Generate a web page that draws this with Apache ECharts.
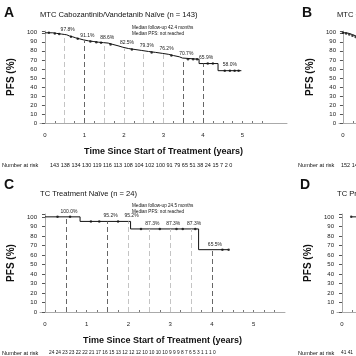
<!DOCTYPE html>
<html><head><meta charset="utf-8">
<script src="https://cdn.jsdelivr.net/npm/echarts@6/dist/echarts.min.js"></script>
<style>html,body{margin:0;padding:0;background:#fff}#c{width:356px;height:356px}</style>
</head><body><div id="c"></div>
<script>
const NARROW = '"Liberation Sans Narrow","Liberation Sans",Arial,sans-serif';
const SANS = '"Liberation Sans",Arial,sans-serif';

// ---------- Panel A: MTC Cabozantinib/Vandetanib Naive ----------
const aTitle = 'MTC Cabozantinib/Vandetanib Naïve (n = 143)';
const aTimes = [0, 0.2, 0.3, 0.42, 0.55, 0.62, 0.7, 0.78, 0.88, 0.97, 1.1, 1.22, 1.35, 1.48, 1.6, 1.72, 1.85, 1.97, 2.12, 2.28, 2.45, 2.62, 2.8, 2.97, 3.12, 3.25, 3.4, 3.48, 3.9, 4.38, 4.97];
const aSurv  = [100, 99.3, 98.6, 97.8, 96.5, 95.6, 94.4, 93.3, 92.2, 91.1, 90.4, 89.6, 89.1, 88.6, 87.1, 85.6, 84.0, 82.5, 81.5, 80.4, 79.3, 78.3, 77.2, 76.2, 74.8, 73.4, 72.0, 70.7, 65.9, 58.0, 58.0];
const aCensorT = [0.1, 0.25, 0.36, 0.66, 0.83, 1.15, 1.3, 1.42, 1.66, 2.2, 2.7, 3.2, 3.62, 3.75, 3.85, 4.12, 4.25, 4.55, 4.68, 4.8, 4.9];
const aCensorS = [100, 99.3, 98.6, 95.6, 93.3, 90.4, 89.6, 89.1, 87.1, 81.5, 78.3, 74.8, 70.7, 70.7, 70.7, 65.9, 65.9, 58.0, 58.0, 58.0, 58.0];
const aMarkT = [0.5, 1, 1.5, 2, 2.5, 3, 3.5, 4];
const aMarkS = [97.8, 91.1, 88.6, 82.5, 79.3, 76.2, 70.7, 65.9];
const aMarkDark = [false, true, false, false, false, false, true, true];
const aFinal = [4.68, 58.0];
const aRisk = [143, 138, 134, 130, 119, 116, 113, 108, 104, 102, 100, 91, 79, 65, 51, 38, 24, 15, 7, 2, 0];
const aNote = ['Median follow-up 42.4 months', 'Median PFS: not reached'];

// ---------- Panel B: MTC pretreated (cut off) ----------
const bTitle = 'MTC Cabozantinib/Vandetanib Pretreated (n = 152)';
const bTimes = [0, 0.08, 0.16, 0.24, 0.32, 0.4];
const bSurv  = [100, 99.3, 98.0, 96.7, 95.4, 94.1];
const bRisk = [152, 141];

// ---------- Panel C: TC Treatment Naive ----------
const cTitle = 'TC Treatment Naïve (n = 24)';
const cTimes = [0, 0.84, 2.05, 3.68, 4.4];
const cSurv  = [100, 95.2, 87.3, 65.5, 65.5];
const cCensorT = [0.3, 0.6, 1.1, 1.3, 1.75, 2.3, 2.75, 3.15, 3.3, 3.6, 4.25, 4.4];
const cCensorS = [100, 100, 95.2, 95.2, 95.2, 87.3, 87.3, 87.3, 87.3, 87.3, 65.5, 65.5];
const cMarkT = [0.5, 1, 1.5, 2, 2.5, 3, 3.5, 4];
const cMarkS = [100.0, 95.2, 95.2, 95.2, 87.3, 87.3, 87.3, 65.5];
const cMarkLine = ['dark', 'none', 'dark', 'light', 'light', 'light', 'light', 'dark'];
const cRisk = [24, 24, 23, 23, 22, 22, 21, 17, 16, 15, 13, 12, 12, 12, 10, 10, 10, 10, 9, 9, 9, 8, 7, 6, 5, 3, 1, 1, 1, 0];
const cNote = ['Median follow-up 24.5 months', 'Median PFS: not reached'];

// ---------- Panel D: TC pretreated (cut off) ----------
const dTitle = 'TC Pretreated (n = 41)';
const dTimes = [0.22, 0.5];
const dSurv  = [100, 100];
const dRisk = [41, 41];

const yTicks = [0, 10, 20, 30, 40, 50, 60, 70, 80, 90, 100];
const xLabels = [0, 1, 2, 3, 4, 5];
const xMinor = [0.25, 0.5, 0.75, 1, 1.25, 1.5, 1.75, 2, 2.25, 2.5, 2.75, 3, 3.25, 3.5, 3.75, 4, 4.25, 4.5, 4.75, 5, 5.25, 5.5];

const grids = [
  {left: 40, top: 31, width: 247, height: 92},
  {left: 339, top: 31, width: 247, height: 92},
  {left: 40, top: 214, width: 245, height: 98},
  {left: 337, top: 214, width: 245, height: 98}
].map(g => Object.assign({outerBoundsMode: 'none', containLabel: false}, g));
const xRanges = [[-0.125, 6.125], [-0.1, 6.15], [-0.12, 5.75], [-0.12, 5.75]];
const yMax = [102, 102, 103, 103];

function xAxisFor(i) {
  return {
    type: 'value', gridIndex: i, min: xRanges[i][0], max: xRanges[i][1],
    name: 'Time Since Start of Treatment (years)', nameLocation: 'middle', nameGap: 24,
    nameTextStyle: {fontFamily: NARROW, fontWeight: 'bold', fontSize: 9, color: '#111'},
    axisLine: {show: true, lineStyle: {color: '#aaa', width: 1}},
    axisTick: {show: true, customValues: xMinor, length: 2, inside: true, lineStyle: {color: '#777'}},
    axisLabel: {customValues: xLabels, fontFamily: SANS, fontSize: 6, color: '#222', margin: 9},
    splitLine: {show: false}
  };
}
function yAxisFor(i) {
  return {
    type: 'value', gridIndex: i, min: 0, max: yMax[i], interval: 10,
    name: 'PFS (%)', nameLocation: 'middle', nameGap: 20, nameRotate: 90,
    nameTextStyle: {fontFamily: NARROW, fontWeight: 'bold', fontSize: 10, color: '#111'},
    axisLine: {show: true, lineStyle: {color: '#aaa', width: 1}},
    axisTick: {show: true, length: 3, lineStyle: {color: '#555'}},
    axisLabel: {fontFamily: SANS, fontSize: 6, color: '#222', margin: 3,
      formatter: v => (yTicks.indexOf(v) >= 0 ? String(v) : '')},
    splitLine: {show: false}
  };
}
const zip = (a, b) => a.map((t, k) => [t, b[k]]);
const lblStyle = {fontFamily: SANS, fontSize: 5, color: '#222'};
const darkDash = {color: '#666', type: [5, 3], width: 1};
const lightDash = {color: '#c4c4c4', type: [5, 3], width: 1};

function markLines(ts, ss, styles) {
  return ts.map((t, k) => {
    const st = styles[k];
    const ls = st === 'dark' ? darkDash : (st === 'light' ? lightDash : {opacity: 0, width: 0});
    return [
      {coord: [t, 0], lineStyle: ls,
       label: {show: true, position: 'end', distance: 3, offset: [3, 0], formatter: ss[k].toFixed(1) + '%', ...lblStyle}},
      {coord: [t, ss[k]]}
    ];
  });
}

const curve = (i, ts, ss, extra) => Object.assign({
  type: 'line', xAxisIndex: i, yAxisIndex: i, step: 'end', data: zip(ts, ss),
  symbol: 'none', lineStyle: {color: '#111', width: 1}, silent: true, animation: false, z: 3
}, extra || {});
const censor = (i, ts, ss) => ({
  type: 'scatter', xAxisIndex: i, yAxisIndex: i, data: zip(ts, ss),
  symbol: 'circle', symbolSize: 2.5, itemStyle: {color: '#111'}, silent: true, animation: false, z: 4
});

const text = (x, y, str, style) => ({type: 'text', left: x, top: y, silent: true,
  style: Object.assign({text: str, fill: '#111', fontFamily: SANS, fontSize: 6}, style || {})});

const riskStr = arr => arr.join(' ');
const RISK_LABEL_FS = 5.6;

const option = {
  backgroundColor: '#fff',
  animation: false,
  grid: grids,
  xAxis: [0, 1, 2, 3].map(xAxisFor),
  yAxis: [0, 1, 2, 3].map(yAxisFor),
  series: [
    curve(0, aTimes, aSurv, {
      markLine: {silent: true, symbol: ['none', 'none'], animation: false,
        data: markLines(aMarkT, aMarkS, aMarkDark.map(d => d ? 'dark' : 'light'))},
      markPoint: {silent: true, symbol: 'circle', symbolSize: 0, animation: false,
        data: [{coord: aFinal, label: {show: true, position: 'top', distance: 4, formatter: aFinal[1].toFixed(1) + '%', ...lblStyle}}]}
    }),
    censor(0, aCensorT, aCensorS),
    curve(1, bTimes, bSurv),
    censor(1, bTimes, bSurv),
    curve(2, cTimes, cSurv, {
      markLine: {silent: true, symbol: ['none', 'none'], animation: false,
        data: markLines(cMarkT, cMarkS, cMarkLine)}
    }),
    censor(2, cCensorT, cCensorS),
    curve(3, dTimes, dSurv),
    censor(3, dTimes.slice(0, 1), dSurv.slice(0, 1))
  ],
  graphic: [
    text(4, 6, 'A', {fontSize: 14, fontWeight: 'bold'}),
    text(40, 11, aTitle, {fontFamily: NARROW, fontSize: 7.6}),
    text(132, 25, aNote[0], {fontSize: 4.6}),
    text(132, 31, aNote[1], {fontSize: 4.6}),
    text(2, 162, 'Number at risk', {fontSize: RISK_LABEL_FS}),
    text(50, 162, riskStr(aRisk), {fontSize: 5.5}),

    text(302, 6, 'B', {fontSize: 14, fontWeight: 'bold'}),
    text(337, 11, bTitle, {fontFamily: NARROW, fontSize: 7.6}),
    text(298, 162, 'Number at risk', {fontSize: RISK_LABEL_FS}),
    text(341, 162, riskStr(bRisk), {fontSize: 5.5}),

    text(4, 178, 'C', {fontSize: 14, fontWeight: 'bold'}),
    text(40, 190, cTitle, {fontFamily: NARROW, fontSize: 7.6}),
    text(132, 203, cNote[0], {fontSize: 4.6}),
    text(132, 209, cNote[1], {fontSize: 4.6}),
    text(2, 350, 'Number at risk', {fontSize: RISK_LABEL_FS}),
    text(49, 350, riskStr(cRisk), {fontSize: 4.8}),

    text(300, 178, 'D', {fontSize: 14, fontWeight: 'bold'}),
    text(337, 190, dTitle, {fontFamily: NARROW, fontSize: 7.6}),
    text(298, 350, 'Number at risk', {fontSize: RISK_LABEL_FS}),
    text(341, 350, riskStr(dRisk), {fontSize: 4.8})
  ]
};
const chart = echarts.init(document.getElementById('c'), null, {renderer: 'canvas'});
chart.setOption(option);
</script>
</body></html>
